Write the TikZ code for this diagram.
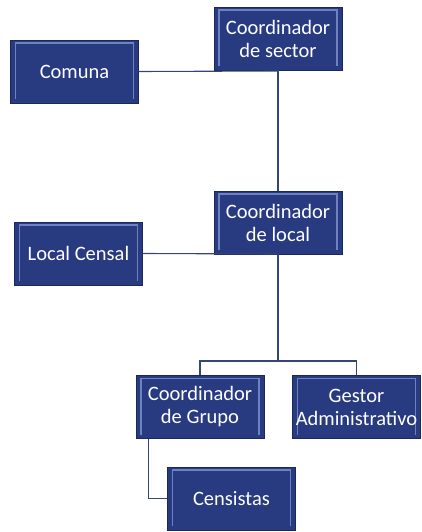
\documentclass[tikz,border=0pt]{standalone}
\usepackage{fontspec}
\setmainfont{Carlito}
\usepackage{tikz}
\usetikzlibrary{calc,positioning}
\definecolor{boxblue}{RGB}{40,58,128}
\definecolor{boxedge}{RGB}{28,40,92}
\definecolor{boxlite}{RGB}{110,130,195}
\definecolor{linkblue}{RGB}{52,70,118}

\begin{document}
\begin{tikzpicture}[x=1pt, y=-1pt,
 box/.style={draw=boxedge, fill=boxblue, minimum width=128pt, minimum height=63pt, inner sep=0pt,
  text=white, align=center, font=\fontsize{20.5}{23}\selectfont,
  path picture={\draw[boxlite, line width=1.4pt] ($(path picture bounding box.south west)+(5pt,4pt)$) -- ($(path picture bounding box.north west)+(5pt,-3pt)$) -- ($(path picture bounding box.north east)+(-5pt,-3pt)$) -- ($(path picture bounding box.south east)+(-5pt,4pt)$);}},
 link/.style={draw=linkblue, line width=1.1pt}]
\useasboundingbox (0,0) rectangle (421,532);
\coordinate (t1) at (278,71);
\coordinate (t2) at (278,254);
\coordinate (t3) at (278,361);
\node[box] (sector) at (278,38.5) {Coordinador\\de sector};
\node[box] (comuna) at (74.5,71.5) {Comuna};
\node[box] (local) at (278,222.5) {Coordinador\\de local};
\node[box] (censal) at (78.5,253.5) {Local Censal};
\node[box] (grupo) at (200,407) {Coordinador\\de Grupo};
\node[box] (gestor) at (356.5,407) {Gestor\\Administrativo};
\node[box] (censistas) at (231.5,498.5) {Censistas};
\coordinate (g1) at ($(grupo.south west)+(13,0)$);
% connectors
\draw[link] (sector) -- (local);
\draw[link] (comuna.east) -- (t1);
\draw[link] (censal.east) -- (t2);
\draw[link] (local) -- (t3);
\draw[link] (t3) -| (grupo.north);
\draw[link] (t3) -| (gestor.north);
\draw[link] (g1) |- (censistas.west);
\end{tikzpicture}
\end{document}
